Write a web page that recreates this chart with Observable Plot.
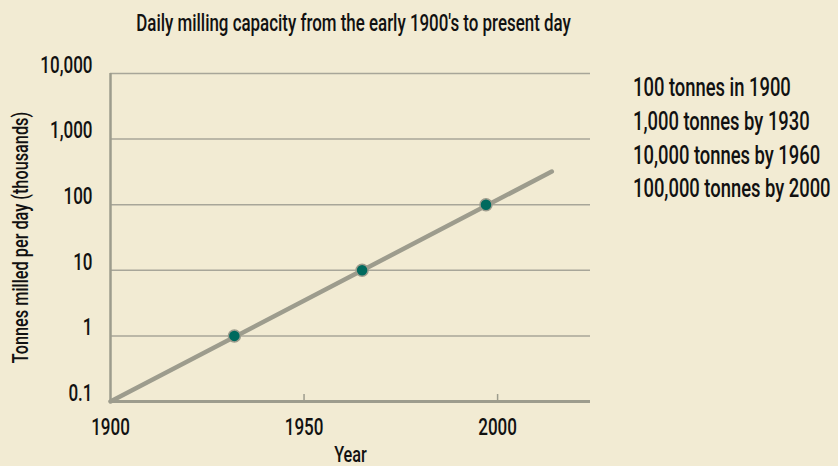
<!DOCTYPE html>
<html>
<head>
<meta charset="utf-8">
<script src="https://cdn.jsdelivr.net/npm/d3@7"></script>
<script src="https://cdn.jsdelivr.net/npm/@observablehq/plot@0.6"></script>
<style>
  html, body { margin: 0; padding: 0; background: #F2EBD3; }
  #wrap { position: relative; width: 838px; height: 466px; overflow: hidden;
          font-family: Roboto, "Liberation Sans", Arial, sans-serif; font-weight: 500; color: #111; }
  #title { position: absolute; left: 0; width: 707px; top: 12px; text-align: center;
           font-size: 23px; line-height: 1; white-space: nowrap;
           transform: scaleX(0.735); transform-origin: 353.5px 0; }
  #notes { position: absolute; left: 633px; top: 71px; font-size: 25px; line-height: 33.8px; white-space: nowrap;
           transform: scaleX(0.735); transform-origin: 0 0; }
  #notes div { height: 33.8px; }
  #chart { position: absolute; left: 0; top: 0; }
  #chart svg text { font-weight: 500; }
</style>
</head>
<body>
<div id="wrap">
  <div id="chart"></div>
  <div id="title"></div>
  <div id="notes"></div>
</div>
<script>
// ---- data ----
const titleText = "Daily milling capacity from the early 1900's to present day";
const lineYears = [1900, 2014];
const lineValues = [0.1, 320];
const pointYears = [1932, 1965, 1997];
const pointValues = [1, 10, 100];
const yTicks = [0.1, 1, 10, 100, 1000, 10000];
const yTickLabels = ["0.1", "1", "10", "100", "1,000", "10,000"];
const xTicks = [1900, 1950, 2000];
const xTickLabels = ["1900", "1950", "2000"];
const xTickMarks = [1950, 2000];
const notes = ["100 tonnes in 1900", "1,000 tonnes by 1930", "10,000 tonnes by 1960", "100,000 tonnes by 2000"];
const yLabel = "Tonnes milled per day (thousands)";
const xLabel = "Year";

const lineData = lineYears.map((y, i) => ({year: y, value: lineValues[i]}));
const pointData = pointYears.map((y, i) => ({year: y, value: pointValues[i]}));

const gray = "#9D9C8D";
const gridGray = "#A8A699";
const condense = 0.74;

const chart = Plot.plot({
  width: 838,
  height: 466,
  marginLeft: 110,
  marginRight: 248,
  marginTop: 73,
  marginBottom: 65,
  style: { background: "transparent", fontFamily: 'Roboto, "Liberation Sans", Arial, sans-serif', fontSize: "23px", color: "#111", overflow: "visible" },
  x: { domain: [1900, 2024] },
  y: { type: "log", domain: [0.1, 10000] },
  marks: [
    Plot.ruleY(yTicks.slice(1), { stroke: gridGray, strokeWidth: 1.5 }),
    Plot.ruleX([1900], { stroke: gray, strokeWidth: 2.5 }),
    Plot.axisX({ ticks: xTickMarks, tickSize: -7, tickFormat: () => "", label: null, stroke: gray, strokeWidth: 1.5 }),
    Plot.ruleY([0.1], { stroke: gray, strokeWidth: 3 }),
    Plot.axisY({ ticks: yTicks, tickFormat: (d) => yTickLabels[yTicks.indexOf(d)], tickSize: 0, tickPadding: 18, dy: -8,
                 label: yLabel, labelAnchor: "center", labelArrow: "none", labelOffset: 98 }),
    Plot.axisX({ ticks: xTicks, tickFormat: (d) => xTickLabels[xTicks.indexOf(d)], tickSize: 0, tickPadding: 17,
                 label: xLabel, labelAnchor: "center", labelArrow: "none", labelOffset: 60 }),
    Plot.line(lineData, { x: "year", y: "value", stroke: gray, strokeWidth: 4.5 }),
    Plot.dot(pointData, { x: "year", y: "value", r: 6, fill: "#006A5E", stroke: gray, strokeWidth: 1.5 })
  ]
});
document.getElementById("chart").appendChild(chart);

// condense the text horizontally to mimic the narrow typeface
chart.querySelectorAll("g[aria-label='y-axis label'] text, g[aria-label='x-axis label'] text").forEach(t => t.setAttribute("font-size", "22"));
chart.querySelectorAll("text").forEach(t => {
  const L = t.getComputedTextLength();
  if (L > 0) {
    t.setAttribute("textLength", (L * condense).toFixed(2));
    t.setAttribute("lengthAdjust", "spacingAndGlyphs");
  }
});

document.getElementById("title").textContent = titleText;
const notesEl = document.getElementById("notes");
for (const n of notes) { const d = document.createElement("div"); d.textContent = n; notesEl.appendChild(d); }
</script>
</body>
</html>
